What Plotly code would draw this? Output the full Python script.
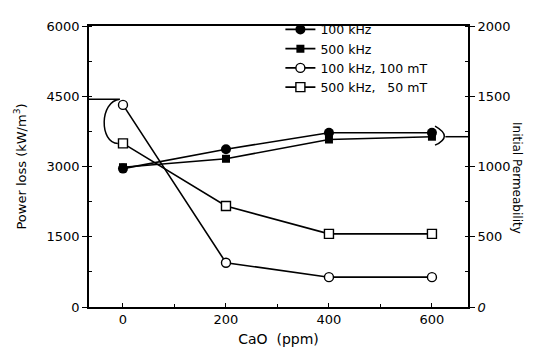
import plotly.graph_objects as go

# Data
cao_ppm = [0, 200, 400, 600]
# Initial permeability (right axis)
perm_100k = [985, 1123, 1240, 1240]
perm_500k = [995, 1055, 1192, 1212]
# Power loss kW/m^3 (left axis)
loss_100k_100mT = [4315, 945, 637, 637]
loss_500k_50mT = [3493, 2157, 1562, 1562]

names = ["100 kHz", "500 kHz", "100 kHz, 100 mT", "500 kHz,\u00a0\u00a0 50 mT"]
y2_ticks = [0, 500, 1000, 1500, 2000]
y2_ticktext = ["<i>0</i>", "500", "1000", "1500", "2000"]

FONT = "DejaVu Sans"
fig = go.Figure()
line = dict(color="black", width=1.6)

fig.add_trace(go.Scatter(x=cao_ppm, y=perm_100k, name=names[0], yaxis="y2",
                         mode="lines+markers", line=line,
                         marker=dict(symbol="circle", size=10, color="black")))
fig.add_trace(go.Scatter(x=cao_ppm, y=perm_500k, name=names[1], yaxis="y2",
                         mode="lines+markers", line=line,
                         marker=dict(symbol="square", size=8, color="black")))
fig.add_trace(go.Scatter(x=cao_ppm, y=loss_100k_100mT, name=names[2], yaxis="y",
                         mode="lines+markers", line=line,
                         marker=dict(symbol="circle", size=9, color="white",
                                     line=dict(color="black", width=1.4))))
fig.add_trace(go.Scatter(x=cao_ppm, y=loss_500k_50mT, name=names[3], yaxis="y",
                         mode="lines+markers", line=line,
                         marker=dict(symbol="square", size=9, color="white",
                                     line=dict(color="black", width=1.4))))

xmin, xmax = -66, 670
s0 = loss_500k_50mT[0]
top_lvl = 4438
# left bracket pointing to power-loss axis
fig.add_shape(type="path", xref="x", yref="y",
              path=f"M {xmin},{top_lvl} L -6,{top_lvl} C -46,{top_lvl-40} -46,{s0+10} -10,{s0}",
              line=dict(color="black", width=1.5))
# right bracket pointing to permeability axis
pm = perm_500k[-1]
fig.add_shape(type="path", xref="x", yref="y2",
              path=f"M 606,{pm+75} Q 642,{pm} 606,{pm-60}",
              line=dict(color="black", width=1.5))
fig.add_shape(type="path", xref="x", yref="y2",
              path=f"M 626,{pm} L {xmax},{pm}",
              line=dict(color="black", width=1.5))

fig.add_annotation(text="Initial Permeability", xref="paper", yref="paper",
                   x=1.155, y=0.46, textangle=90, showarrow=False,
                   font=dict(family=FONT, size=12, color="black"))

tickfont = dict(family=FONT, size=13, color="black")
fig.update_layout(
    width=532, height=347,
    margin=dict(l=81, r=72, t=7, b=48),
    paper_bgcolor="white", plot_bgcolor="white",
    showlegend=True,
    legend=dict(x=0.505, y=1.04, xanchor="left", yanchor="top",
                bgcolor="rgba(0,0,0,0)", font=dict(family=FONT, size=12.5, color="black"),
                itemwidth=30, tracegroupgap=0),
    xaxis=dict(range=[xmin, xmax], tickvals=[0, 200, 400, 600],
               ticks="inside", ticklen=4, tickcolor="black", tickwidth=1.2,
               minor=dict(dtick=100, ticks="inside", ticklen=3, tickcolor="black"),
               showline=True, linecolor="black", linewidth=1.6, mirror=True,
               showgrid=False, zeroline=False, tickfont=tickfont,
               title=dict(text="CaO  (ppm)", font=dict(family=FONT, size=14, color="black"), standoff=8)),
    yaxis=dict(range=[0, 6000], tickvals=[0, 1500, 3000, 4500, 6000],
               ticks="outside", ticklen=5, tickcolor="black", tickwidth=1.2,
               minor=dict(dtick=750, ticks="inside", ticklen=3, tickcolor="black"),
               showline=True, linecolor="black", linewidth=1.6,
               showgrid=False, zeroline=False, tickfont=tickfont,
               title=dict(text="Power loss (kW/m<sup>3</sup>)", font=dict(family=FONT, size=13, color="black"), standoff=17)),
    yaxis2=dict(range=[0, 2000], tickvals=y2_ticks, ticktext=y2_ticktext,
                overlaying="y", side="right",
                ticks="outside", ticklen=5, tickcolor="black", tickwidth=1.2,
                minor=dict(dtick=250, ticks="inside", ticklen=3, tickcolor="black"),
                showline=True, linecolor="black", linewidth=1.6,
                showgrid=False, zeroline=False, tickfont=tickfont),
)
fig.write_html("out.html")
